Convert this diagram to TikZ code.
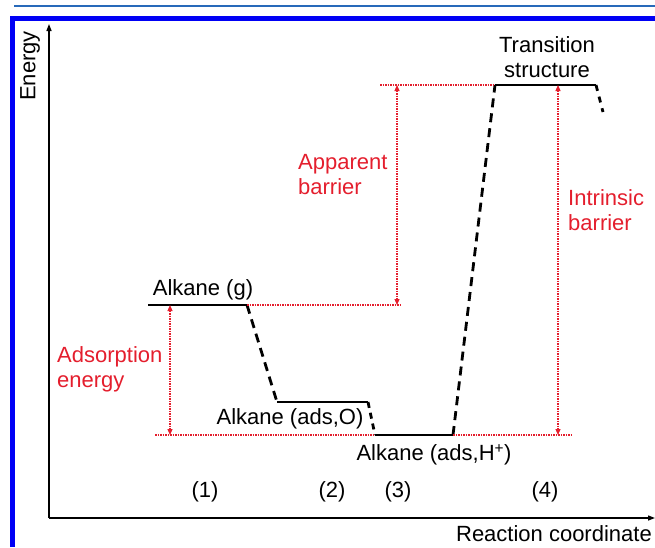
\documentclass[tikz,border=0pt]{standalone}
\usepackage{fontspec}
\setmainfont{Liberation Sans}
\usetikzlibrary{arrows.meta, positioning}
\definecolor{framegblue}{RGB}{0,0,245}
\definecolor{ruleblue}{RGB}{40,105,185}
\definecolor{barrierred}{RGB}{228,30,45}

\begin{document}
\begin{tikzpicture}[x=1pt, y=-1pt,
        level/.style={line width=2.8pt},
        path/.style={line width=2.8pt, dash pattern=on 9pt off 6pt},
        guide/.style={barrierred, line width=1.2pt, dash pattern=on 1.5pt off 1pt},
        gap/.style={guide, {Triangle[length=6pt,width=5pt]}-{Triangle[length=6pt,width=5pt]}},
        lbl/.style={font=\fontsize{22}{25}\selectfont, inner sep=0pt},
        redlbl/.style={lbl, text=barrierred, align=left}
    ]
        \useasboundingbox (0,0) rectangle (655,547);
        % page rule and frame
        \draw[ruleblue, line width=2pt] (14,6) -- (655,6);
        \draw[framegblue, line width=5pt] (12,547) -- (12,18) -- (655,18);

        % axes
        \coordinate (origin) at (49,518);
        \coordinate (ytip) at (49,24);
        \coordinate (xtip) at (655,518);
        \draw[line width=1.3pt, -{Triangle[length=7pt,width=5pt]}] (origin) -- (ytip);
        \draw[line width=1.3pt, -{Triangle[length=7pt,width=5pt]}] (origin) -- (xtip);
        \node[lbl, rotate=90] (energy) at (30,66) {Energy};
        \node[lbl, anchor=east] (rxn) at (652,534) {Reaction coordinate};

        % energy levels
        \coordinate (gL) at (148,305);   \coordinate (gR) at (247,305);
        \coordinate (oL) at (277,402);   \coordinate (oR) at (368,402);
        \coordinate (hL) at (375,435);   \coordinate (hR) at (453,435);
        \coordinate (tL) at (495,85);    \coordinate (tR) at (596,85);
        \coordinate (tEnd) at (603,112);
        \draw[level] (gL) -- (gR);
        \draw[level] (oL) -- (oR);
        \draw[level] (hL) -- (hR);
        \draw[level] (tL) -- (tR);
        \draw[path] (gR) -- (oL);
        \draw[path, dash pattern=on 6pt off 5pt] (oR) -- (hL);
        \draw[path] (hR) -- (tL);
        \draw[path, dash pattern=on 6pt off 6pt] (tR) -- (tEnd);

        \node[lbl] (gas) at (203,290) {Alkane (g)};
        \node[lbl] (adsO) at (290,419) {Alkane (ads,O)};
        \node[lbl] (adsH) at (434,455) {Alkane (ads,H\textsuperscript{+})};
        \node[lbl, align=center] (ts) at (547,57) {Transition\\structure};

        % guide lines
        \draw[guide] (gR) -- (402,305);
        \draw[guide] (155,435) -- (hL);
        \draw[guide] (hR) -- (573,435);
        \draw[guide] (380,85) -- (tL);
        \draw[gap] (170,305) -- (170,435);
        \draw[gap] (397,85) -- (397,305);
        \draw[gap] (558,85) -- (558,435);

        \node[redlbl, anchor=north west] (adsorb) at (57,346) {Adsorption\\energy};
        \node[redlbl, anchor=north west] (apparent) at (298,154) {Apparent\\barrier};
        \node[redlbl, anchor=north west] (intrinsic) at (568,189) {Intrinsic\\barrier};

        % steps
        \node[lbl] (s1) at (205,492) {(1)};
        \node[lbl] (s2) at (332,492) {(2)};
        \node[lbl] (s3) at (398,492) {(3)};
        \node[lbl] (s4) at (545,492) {(4)};
    \end{tikzpicture}
\end{document}
